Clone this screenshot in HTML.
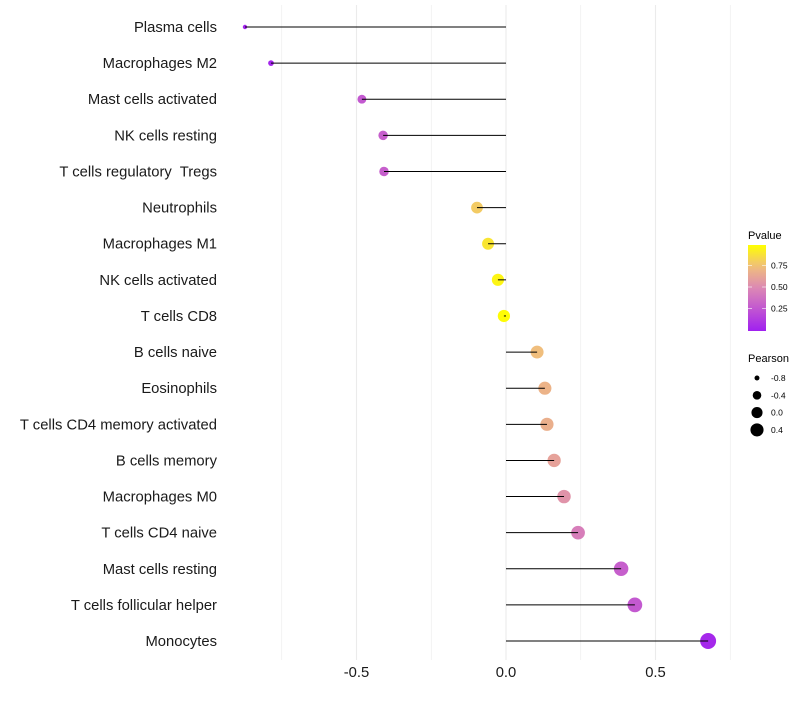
<!DOCTYPE html>
<html><head><meta charset="utf-8"><style>
body{margin:0;background:#fff;font-family:"Liberation Sans",sans-serif}
svg text{font-family:"Liberation Sans",sans-serif;white-space:pre}
</style></head><body>
<svg id="c" width="800" height="700" xmlns="http://www.w3.org/2000/svg">
<g id="grid"></g>
<g id="dots"></g>
<g id="marks"></g>
<g id="ylab"></g>
<g id="xlab"></g>
<g id="legend"></g>
</svg>
<script>
const categories=["Plasma cells","Macrophages M2","Mast cells activated","NK cells resting","T cells regulatory  Tregs","Neutrophils","Macrophages M1","NK cells activated","T cells CD8","B cells naive","Eosinophils","T cells CD4 memory activated","B cells memory","Macrophages M0","T cells CD4 naive","Mast cells resting","T cells follicular helper","Monocytes"];
const pearson=[-0.873,-0.786,-0.482,-0.411,-0.408,-0.097,-0.060,-0.027,-0.007,0.104,0.130,0.137,0.161,0.194,0.241,0.385,0.431,0.676];
const pvalue=[0.02,0.03,0.27,0.3,0.3,0.8,0.9,0.96,0.99,0.75,0.7,0.68,0.62,0.55,0.45,0.3,0.27,0.04];
const xTicks=[-0.5,0,0.5];
const gridTicks=[-0.75,-0.5,-0.25,0,0.25,0.5,0.75];
const pTicks=[0.25,0.5,0.75];
const sizeTicks=[-0.8,-0.4,0.0,0.4];
const NS="http://www.w3.org/2000/svg";
const x=v=>506+v*299;
const y=i=>27+i*36.12;
const r=v=>Math.max(2.2,Math.sqrt(Math.max(0,38+38*v)));
const stops=[[0,[160,32,240]],[0.25,[193,85,210]],[0.5,[220,136,180]],[0.75,[240,190,125]],[1,[255,255,0]]];
function col(p){for(let k=1;k<stops.length;k++){if(p<=stops[k][0]){const a=stops[k-1],b=stops[k];const t=(p-a[0])/(b[0]-a[0]);const c=a[1].map((q,j)=>Math.round(q+(b[1][j]-q)*t));return `rgb(${c})`;}}return 'rgb(255,255,0)';}
function mk(tag,at,parent){const e=document.createElementNS(NS,tag);for(const k in at)e.setAttribute(k,at[k]);document.getElementById(parent).appendChild(e);return e;}
gridTicks.forEach(t=>{const l=mk('line',{x1:x(t),x2:x(t),y1:5,y2:660,stroke:'#ebebeb','stroke-width':Math.abs(t*2)%1===0?1.1:0.6},'grid');

});
categories.forEach((c,i)=>{
const d=mk('circle',{cx:x(pearson[i]),cy:y(i),r:r(pearson[i]),fill:col(pvalue[i])},'dots');


const l=mk('line',{x1:x(0),x2:x(pearson[i]),y1:y(i),y2:y(i),stroke:'#000','stroke-width':1},'marks');


const t=mk('text',{x:217,y:y(i)+5,'text-anchor':'end','font-size':14.8,fill:'#1a1a1a'},'ylab');t.textContent=c;


});
xTicks.forEach(v=>{const t=mk('text',{x:x(v),y:677,'text-anchor':'middle','font-size':14.8,fill:'#1a1a1a'},'xlab');t.textContent=v===0?'0.0':v.toFixed(1);

});
const defs=mk('defs',{},'legend');const g=document.createElementNS(NS,'linearGradient');g.setAttribute('id','pg');g.setAttribute('x1',0);g.setAttribute('x2',0);g.setAttribute('y1',1);g.setAttribute('y2',0);defs.appendChild(g);
for(let k=0;k<=10;k++){const s=document.createElementNS(NS,'stop');s.setAttribute('offset',k/10);s.setAttribute('stop-color',col(k/10));g.appendChild(s);}
let t=mk('text',{x:748,y:239,'font-size':11,fill:'#000'},'legend');t.textContent='Pvalue';


const bar=mk('rect',{x:748,y:245,width:18,height:86,fill:'url(#pg)'},'legend');


const py=p=>330-p*86;
pTicks.forEach(p=>{mk('line',{x1:748,x2:752,y1:py(p),y2:py(p),stroke:'#fff','stroke-width':0.6},'legend');mk('line',{x1:762,x2:766,y1:py(p),y2:py(p),stroke:'#fff','stroke-width':0.6},'legend');
const tt=mk('text',{x:771,y:py(p)+3,'font-size':8.5,fill:'#000'},'legend');tt.textContent=p.toFixed(2);

});
t=mk('text',{x:748,y:362,'font-size':11,fill:'#000'},'legend');t.textContent='Pearson';


sizeTicks.forEach((v,k)=>{const cy=378+k*17.3;const c=mk('circle',{cx:757,cy:cy,r:r(v)*0.9,fill:'#000'},'legend');


const tt=mk('text',{x:771,y:cy+3,'font-size':8.5,fill:'#000'},'legend');tt.textContent=v.toFixed(1);

});
</script>
</body></html>
